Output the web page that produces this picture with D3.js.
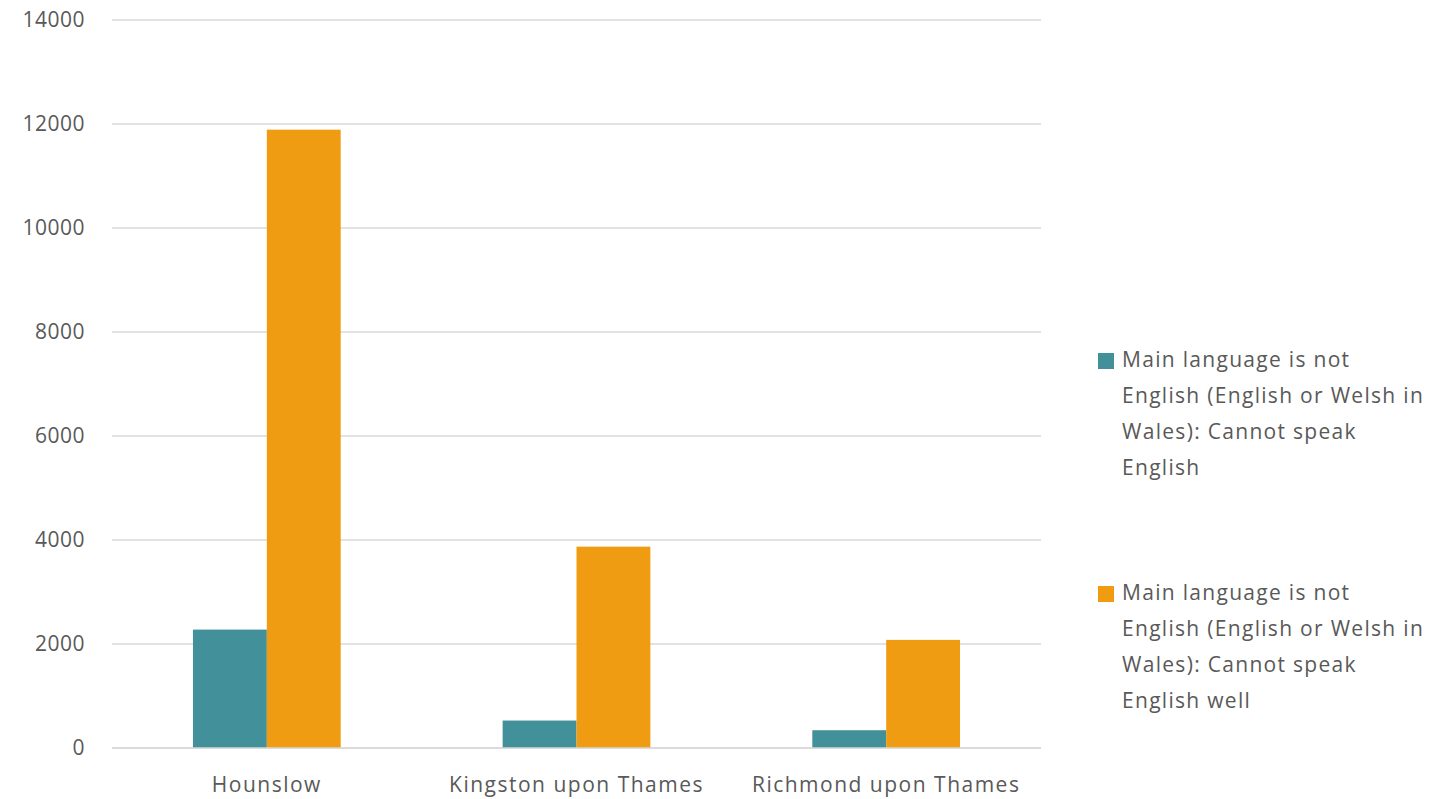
<!DOCTYPE html>
<html>
<head>
<meta charset="utf-8">
<script src="https://cdn.jsdelivr.net/npm/d3@7"></script>
<style>
    body { margin: 0; background: #fff; }
    text { font-family: "Open Sans", sans-serif; fill: #595959; }
</style>
</head>
<body>
<script>
const WIDTH = 1448
const HEIGHT = 799

const PADDING = {
    left: 112,
    right: 407,
    top: 20,
    bottom: 51
}

const categories = ["Hounslow", "Kingston upon Thames", "Richmond upon Thames"]
// legend labels, broken into lines the way the reference shows them
const seriesNames = [
    ["Main language is not", "English (English or Welsh in", "Wales): Cannot speak", "English"],
    ["Main language is not", "English (English or Welsh in", "Wales): Cannot speak", "English well"]
]
const cannotSpeak = [2277, 528, 342]
const cannotSpeakWell = [11891, 3872, 2079]
const yTicks = [0, 2000, 4000, 6000, 8000, 10000, 12000, 14000]
const colors = ["#42909a", "#ef9c13"]

const series = [cannotSpeak, cannotSpeakWell]

const svg = d3.select("body")
    .append("svg")
    .attr("width", WIDTH)
    .attr("height", HEIGHT)

const xScale = d3.scaleBand()
    .domain(categories)
    .range([PADDING.left, WIDTH - PADDING.right])

const groupWidth = xScale.bandwidth() * 0.477

const xInner = d3.scaleBand()
    .domain(d3.range(series.length))
    .range([0, groupWidth])

const yScale = d3.scaleLinear()
    .domain([0, 14000])
    .range([HEIGHT - PADDING.bottom, PADDING.top])

// gridlines
svg.append("g")
    .selectAll("line")
    .data(yTicks)
    .enter()
    .append("line")
    .attr("x1", PADDING.left)
    .attr("x2", WIDTH - PADDING.right)
    .attr("y1", d => yScale(d))
    .attr("y2", d => yScale(d))
    .attr("stroke", "#d9d9d9")
    .attr("stroke-width", 1.5)

const yAxis = d3.axisLeft(yScale)
    .tickValues(yTicks)
    .tickFormat(d3.format("d"))
    .tickSize(0)
    .tickPadding(27)

svg.append("g")
    .attr("id", "y-axis")
    .attr("transform", "translate(" + PADDING.left + ", 0)")
    .call(yAxis)
    .call(g => g.select(".domain").remove())
    .selectAll("text")
    .style("font-family", "'Open Sans', sans-serif")
    .style("font-size", "21px")
    .style("letter-spacing", "0.5px")
    .style("fill", "#595959")

// bars
const groups = svg.append("g")
    .selectAll("g")
    .data(categories)
    .enter()
    .append("g")
    .attr("transform", d => "translate(" + (xScale(d) + (xScale.bandwidth() - groupWidth) / 2) + ", 0)")

groups.selectAll("rect")
    .data((d, i) => series.map((s, j) => ({ j: j, value: s[i] })))
    .enter()
    .append("rect")
    .attr("x", d => xInner(d.j))
    .attr("y", d => yScale(d.value))
    .attr("width", xInner.bandwidth())
    .attr("height", d => yScale(0) - yScale(d.value))
    .attr("fill", d => colors[d.j])

// baseline on top of bars
svg.append("line")
    .attr("x1", PADDING.left)
    .attr("x2", WIDTH - PADDING.right)
    .attr("y1", yScale(0))
    .attr("y2", yScale(0))
    .attr("stroke", "#d9d9d9")
    .attr("stroke-width", 1.5)

const xAxis = d3.axisBottom(xScale)
    .tickSize(0)
    .tickPadding(29)

svg.append("g")
    .attr("id", "x-axis")
    .attr("transform", "translate(0, " + yScale(0) + ")")
    .call(xAxis)
    .call(g => g.select(".domain").remove())
    .selectAll("text")
    .style("font-family", "'Open Sans', sans-serif")
    .style("font-size", "21px")
    .style("letter-spacing", "1.5px")
    .style("fill", "#595959")

// legend
const legend = svg.append("g")
    .attr("id", "legend")

const legendTop = [360, 593]

seriesNames.forEach((lines, i) => {
    const item = legend.append("g")
        .attr("transform", "translate(1098, " + legendTop[i] + ")")

    item.append("rect")
        .attr("x", 0)
        .attr("y", -7)
        .attr("width", 16)
        .attr("height", 16)
        .attr("fill", colors[i])

    item.append("text")
        .style("font-size", "21px")
        .style("letter-spacing", "1.3px")
        .selectAll("tspan")
        .data(lines)
        .enter()
        .append("tspan")
        .attr("x", 24)
        .attr("y", (d, k) => k * 36)
        .attr("dy", "0.35em")
        .text(d => d)
})
</script>
</body>
</html>
